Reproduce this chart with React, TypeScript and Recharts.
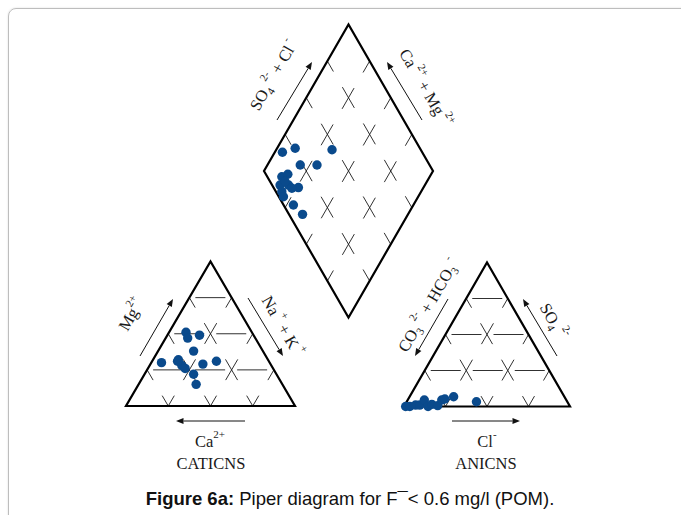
import React from "react"
import {
  ScatterChart,
  Scatter,
  XAxis,
  YAxis,
  ReferenceLine,
  ReferenceDot,
} from "recharts"

const W = 681
const H = 515

// cation samples, % meq/l (Mg2+ and Na+ + K+, Ca2+ is the rest)
const cationMg = [51, 47, 49, 38, 30, 32, 28, 26, 29, 31, 22, 15, 31]
const cationNaK = [10, 13, 19, 21, 6, 15, 19, 22, 31, 38, 29, 34, 15]

// anion samples, % meq/l (SO4 2- and Cl-, CO3 + HCO3 is the rest)
const anionSO4 = [0, 0, 1, 1, 4.5, 0, 1.5, 0.6, 4.5, 5.2, 6.8, 3.3]
const anionCl = [1, 3.5, 6.5, 9, 10, 14.5, 16, 20, 20.5, 22, 26.5, 42]

// diamond samples (Na+ + K+ and SO4 + Cl)
const diamondNaK = [4.5, 10.7, 33, 19.4, 29.3, 12.5, 15.2, 14.3, 19.3, 26, 17.6, 20.3, 29, 37.6, 22.4, 16]
const diamondSO4Cl = [17.3, 26.2, 47.5, 23.5, 33.4, 8.6, 13, 4.7, 9.7, 14.7, 3.5, 2.7, 5.8, 8, 10.6, 8.8]

const gridSteps = [25, 50, 75]

const DOT = "#0a4a8c"
const SERIF = "'Liberation Serif', 'Times New Roman', serif"

// geometry of the three plots (pixels)
const CAT = { x: 126, y: 406, w: 169, h: 144.5 }
const AN = { x: 404, y: 406.5, w: 166, h: 144 }
const DIA = { x: 264, y: 171, hw: 84.5, hh: 146.5 }

type Pt = { x: number; y: number }

// a = right corner component, b = apex component
const triPos = (t: typeof CAT, a: number, b: number): Pt => ({
  x: t.x + ((a + b / 2) * t.w) / 100,
  y: t.y - (b * t.h) / 100,
})

// n = Na+K (towards bottom), s = SO4+Cl (towards top)
const diaPos = (n: number, s: number): Pt => ({
  x: DIA.x + ((n + s) * DIA.hw) / 100,
  y: DIA.y + ((n - s) * DIA.hh) / 100,
})

const cationPts = cationMg.map((mg, i) => triPos(CAT, cationNaK[i], mg))
const anionPts = anionSO4.map((so4, i) => triPos(AN, anionCl[i], so4))
const diamondPts = diamondNaK.map((n, i) => diaPos(n, diamondSO4Cl[i]))

const triOutline = (t: typeof CAT) => [
  triPos(t, 0, 0),
  triPos(t, 100, 0),
  triPos(t, 0, 100),
  triPos(t, 0, 0),
  triPos(t, 100, 0),
]
const diaOutline = [diaPos(0, 0), diaPos(0, 100), diaPos(100, 100), diaPos(100, 0), diaPos(0, 0), diaPos(0, 100)]

type Seg = { a: Pt; b: Pt; kind: "h" | "d" }

function triGrid(t: typeof CAT): Seg[] {
  const out: Seg[] = []
  gridSteps.forEach((f) => {
    out.push({ a: triPos(t, 0, f), b: triPos(t, 100 - f, f), kind: "h" })
    out.push({ a: triPos(t, f, 0), b: triPos(t, f, 100 - f), kind: "d" })
    out.push({ a: triPos(t, 100 - f, 0), b: triPos(t, 0, 100 - f), kind: "d" })
  })
  return out
}

const diaGrid: Seg[] = gridSteps.flatMap((f) => [
  { a: diaPos(0, f), b: diaPos(100, f), kind: "d" as const },
  { a: diaPos(f, 0), b: diaPos(f, 100), kind: "d" as const },
])

const gridSegs = [...triGrid(CAT), ...triGrid(AN), ...diaGrid]

const arrows: Seg[] = [
  { a: { x: 245, y: 421 }, b: { x: 176, y: 421 }, kind: "d" },
  { a: { x: 140, y: 356 }, b: { x: 173, y: 299 }, kind: "d" },
  { a: { x: 248, y: 298 }, b: { x: 283, y: 356 }, kind: "d" },
  { a: { x: 452, y: 421 }, b: { x: 520, y: 421 }, kind: "d" },
  { a: { x: 448, y: 299 }, b: { x: 415, y: 356 }, kind: "d" },
  { a: { x: 557, y: 356 }, b: { x: 523, y: 299 }, kind: "d" },
  { a: { x: 277, y: 120 }, b: { x: 312, y: 62 }, kind: "d" },
  { a: { x: 422, y: 120 }, b: { x: 387, y: 62 }, kind: "d" },
]

type Part = [string, "n" | "sub" | "sup"]
type Label = { x: number; y: number; angle: number; parts: Part[] }

const labels: Label[] = [
  { x: 131, y: 314, angle: -60, parts: [["Mg", "n"], ["2+", "sup"]] },
  { x: 283, y: 326, angle: 60, parts: [["Na", "n"], [" +", "sup"], [" + K", "n"], [" +", "sup"]] },
  { x: 210, y: 441, angle: 0, parts: [["Ca", "n"], ["2+", "sup"]] },
  { x: 211, y: 463, angle: 0, parts: [["CATICNS", "n"]] },
  { x: 428, y: 305, angle: -60, parts: [["CO", "n"], ["3", "sub"], [" 2-", "sup"], [" + HCO", "n"], ["3", "sub"], [" -", "sup"]] },
  { x: 554, y: 321, angle: 60, parts: [["SO", "n"], ["4", "sub"], [" 2-", "sup"]] },
  { x: 487, y: 441, angle: 0, parts: [["Cl", "n"], ["-", "sup"]] },
  { x: 486, y: 463, angle: 0, parts: [["ANICNS", "n"]] },
  { x: 273, y: 75, angle: -60, parts: [["SO", "n"], ["4", "sub"], [" 2-", "sup"], [" + Cl", "n"], [" -", "sup"]] },
  { x: 426, y: 88, angle: 60, parts: [["Ca", "n"], [" 2+", "sup"], [" + Mg", "n"], [" 2+", "sup"]] },
]

const shift = { n: 0, sub: 4, sup: -9 }

function LabelShape(lab: Label) {
  return (props: any) => {
    const { cx, cy } = props
    let cur = 0
    return (
      <text
        x={cx}
        y={cy + 6}
        transform={`rotate(${lab.angle}, ${cx}, ${cy})`}
        textAnchor="middle"
        fontFamily={SERIF}
        fontSize={16.5}
        fill="#1a1a1a"
      >
        {lab.parts.map(([t, k], i) => {
          const dy = shift[k] - cur
          cur = shift[k]
          return (
            <tspan key={i} dy={dy} fontSize={k === "n" ? 16.5 : 11} style={{ whiteSpace: "pre" }}>
              {t}
            </tspan>
          )
        })}
      </text>
    )
  }
}

function ArrowShape(props: any) {
  const { x1, y1, x2, y2 } = props
  const dx = x2 - x1
  const dy = y2 - y1
  const L = Math.hypot(dx, dy) || 1
  const ux = dx / L
  const uy = dy / L
  const hl = 7.5
  const hw = 3
  const bx = x2 - ux * hl
  const by = y2 - uy * hl
  return (
    <g>
      <line x1={x1} y1={y1} x2={bx} y2={by} stroke="#111" strokeWidth={1} />
      <polygon
        points={`${x2},${y2} ${bx - uy * hw},${by + ux * hw} ${bx + uy * hw},${by - ux * hw}`}
        fill="#111"
      />
    </g>
  )
}

const dotShape = (props: any) => <circle cx={props.cx} cy={props.cy} r={4.7} fill={DOT} />
const noShape = () => <g />

export default function App() {
  return (
    <div
      style={{
        position: "fixed",
        left: 0,
        top: 0,
        width: W,
        height: H,
        overflow: "hidden",
        background: "#fff",
      }}
    >
      <div
        style={{
          position: "absolute",
          left: 8,
          top: 8,
          width: 700,
          height: 540,
          border: "1px solid #bdbdbd",
          borderRadius: 8,
          boxShadow: "0 0 2px rgba(0,0,0,0.15)",
        }}
      />
      <div style={{ position: "absolute", left: 0, top: 0 }}>
        <ScatterChart width={W} height={H} margin={{ top: 0, right: 0, bottom: 0, left: 0 }}>
          <XAxis type="number" dataKey="x" domain={[0, W]} hide />
          <YAxis type="number" dataKey="y" domain={[0, H]} reversed hide />

          {gridSegs.map((s, i) => (
            <ReferenceLine
              key={"g" + i}
              segment={[s.a, s.b]}
              stroke="#1a1a1a"
              strokeWidth={0.9}
              strokeDasharray={s.kind === "h" ? "30 12" : "24 18"}
              strokeDashoffset={s.kind === "h" ? 36 : 12}
            />
          ))}

          <Scatter data={triOutline(CAT)} line={{ stroke: "#000", strokeWidth: 2.2 }} shape={noShape} isAnimationActive={false} />
          <Scatter data={triOutline(AN)} line={{ stroke: "#000", strokeWidth: 2.2 }} shape={noShape} isAnimationActive={false} />
          <Scatter data={diaOutline} line={{ stroke: "#000", strokeWidth: 2.2 }} shape={noShape} isAnimationActive={false} />

          {arrows.map((s, i) => (
            <ReferenceLine key={"a" + i} segment={[s.a, s.b]} shape={ArrowShape} />
          ))}

          {labels.map((l, i) => (
            <ReferenceDot key={"l" + i} x={l.x} y={l.y} r={0} shape={LabelShape(l)} />
          ))}

          <Scatter data={cationPts} shape={dotShape} isAnimationActive={false} />
          <Scatter data={anionPts} shape={dotShape} isAnimationActive={false} />
          <Scatter data={diamondPts} shape={dotShape} isAnimationActive={false} />
        </ScatterChart>
      </div>
      <div
        style={{
          position: "absolute",
          left: 0,
          top: 488,
          width: 700,
          textAlign: "center",
          fontFamily: "'Liberation Sans', Arial, sans-serif",
          fontSize: 18.5,
          color: "#111",
        }}
      >
        <b>Figure 6a:</b> Piper diagram for F¯&lt; 0.6 mg/l (POM).
      </div>
    </div>
  )
}
